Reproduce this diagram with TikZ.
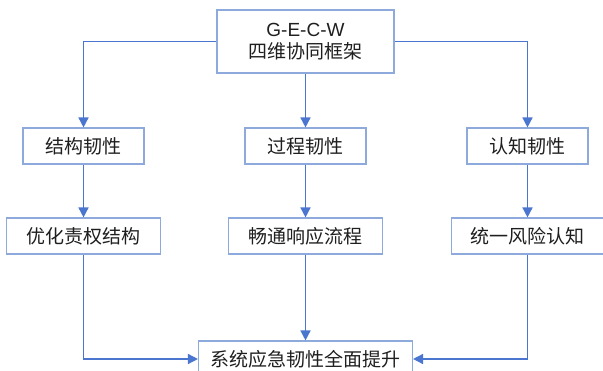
\documentclass[tikz,border=0pt]{standalone}
\usepackage{fontspec}
\setmainfont{Liberation Sans}
\newfontfamily\cjk{Noto Sans CJK SC}
\usetikzlibrary{arrows.meta}
\definecolor{boxline}{HTML}{8EA9DB}
\definecolor{conn}{HTML}{4A76D0}
\definecolor{txt}{HTML}{1F1F1F}
\tikzset{
  box/.style={draw=boxline, line width=1.1pt, fill=white, rectangle, inner sep=0pt,
    minimum height=36pt, text=txt, font=\cjk\fontsize{19}{23}\selectfont, align=center},
  conn/.style={draw=conn, line width=1.5pt, -{Triangle[length=10pt,width=10pt]}}
}
\begin{document}
\begin{tikzpicture}[x=1pt,y=-1pt]
\useasboundingbox (0,0) rectangle (603,371);
\clip (0,0) rectangle (603,371);
\node[box, minimum width=177pt, minimum height=63pt] (top) at (305.5,41.5)
  {{\fontspec{Liberation Sans}G-E-C-W}\\[-1pt]四维协同框架};
\node[box, minimum width=121pt] (s1) at (83.5,146) {结构韧性};
\node[box, minimum width=121pt] (s2) at (305.5,146) {过程韧性};
\node[box, minimum width=121pt] (s3) at (527.5,146) {认知韧性};
\node[box, minimum width=154pt] (p1) at (83.5,236) {优化责权结构};
\node[box, minimum width=154pt] (p2) at (305.5,236) {畅通响应流程};
\node[box, minimum width=152pt] (p3) at (527.5,236) {统一风险认知};
\node[box, minimum width=214pt] (bot) at (305.5,359) {系统应急韧性全面提升};
\draw[conn] (top.west) -| (s1.north);
\draw[conn] (top.south) -- (s2.north);
\draw[conn] (top.east) -| (s3.north);
\draw[conn] (s1.south) -- (p1.north);
\draw[conn] (s2.south) -- (p2.north);
\draw[conn] (s3.south) -- (p3.north);
\draw[conn] (p1.south) |- (bot.west);
\draw[conn] (p2.south) -- (bot.north);
\draw[conn] (p3.south) |- (bot.east);
\end{tikzpicture}
\end{document}
